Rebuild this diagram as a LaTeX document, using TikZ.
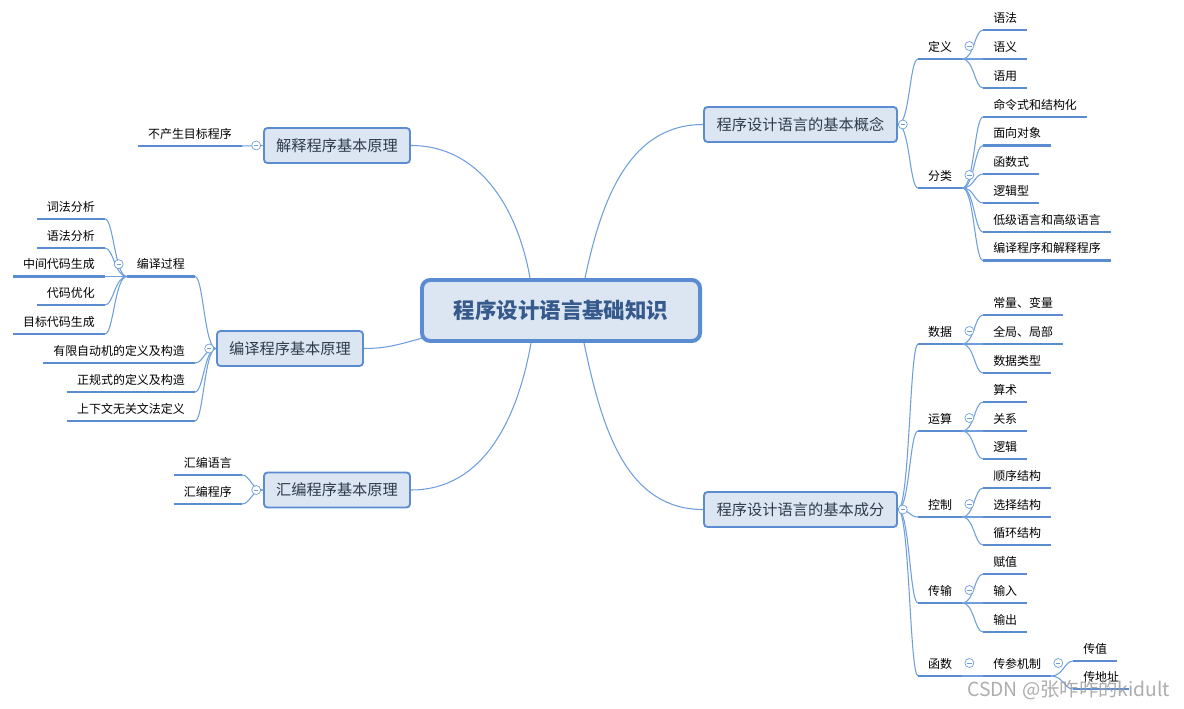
\documentclass[tikz,border=0pt]{standalone}
\usepackage{fontspec}
\setmainfont{Noto Sans CJK SC}
\usetikzlibrary{positioning,backgrounds}
\definecolor{mmblue}{HTML}{5B8CD2}
\definecolor{mmline}{HTML}{6E9FDC}
\definecolor{mmfill}{HTML}{DCE6F2}
\definecolor{mmtext}{HTML}{2E3B4C}
\definecolor{roottext}{HTML}{365A8C}
\tikzset{
  root/.style={draw=mmblue,line width=3.4pt,rounded corners=7pt,fill=mmfill,text=roottext,
    minimum width=8.34cm,minimum height=1.83cm,inner sep=0pt,font=\fontsize{18.3}{20}\selectfont\bfseries},
  topic/.style={draw=mmblue,line width=1.6pt,rounded corners=3pt,fill=mmfill,text=mmtext,
    minimum height=1.05cm,inner sep=0pt,font=\fontsize{13}{15}\selectfont},
  uline/.style={draw=mmblue,line width=2.5pt},
  leaf/.style={inner xsep=0.3cm,inner ysep=3.8pt,text height=9pt,text depth=2.5pt,
    font=\fontsize{10.2}{12}\selectfont,
    append after command={(\tikzlastnode.south west) edge[uline] (\tikzlastnode.south east)}},
  leafl/.style={leaf,anchor=south east},
  leafr/.style={leaf,anchor=south west},
  fold/.style={circle,draw=mmline,fill=white,line width=0.6pt,minimum size=0.27cm,inner sep=0pt,
    path picture={\draw[mmline,line width=0.6pt] ([xshift=0.07cm]path picture bounding box.west)
      -- ([xshift=-0.07cm]path picture bounding box.east);}},
  branch/.style={draw=mmline,line width=0.9pt},
  rlink/.style={out=0,in=180,out distance=0.35cm,in distance=0.25cm},
  llink/.style={out=180,in=0,out distance=0.35cm,in distance=0.25cm},
  wmark/.style={text=gray!75,opacity=0.85,inner sep=0pt,font=\fontsize{16.5}{18}\selectfont}
}
\begin{document}
\begin{tikzpicture}[x=0.03cm,y=-0.03cm]
  \useasboundingbox (0,0) rectangle (1184,709);

  % centre and main topics
  \node[root] (root) at (561,310.5) {程序设计语言基础知识};
  \node[topic,minimum width=4.38cm] (jieshi) at (337,145.5) {解释程序基本原理};
  \node[topic,minimum width=4.38cm] (bianyi) at (290,348.5) {编译程序基本原理};
  \node[topic,minimum width=4.38cm] (huibian) at (337,490) {汇编程序基本原理};
  \node[topic,minimum width=5.79cm] (gainian) at (800.5,124.5) {程序设计语言的基本概念};
  \node[topic,minimum width=5.79cm] (chengfen) at (800.5,509.5) {程序设计语言的基本成分};

  % left side
  \node[leafl] (buchansheng) at (242,146) {不产生目标程序};
  \node[leafl] (guocheng) at (195,276.5) {编译过程};
  \node[leafl] (youxian) at (195,363) {有限自动机的定义及构造};
  \node[leafl] (zhenggui) at (195,392) {正规式的定义及构造};
  \node[leafl] (shangxiawen) at (195,421) {上下文无关文法定义};
  \node[leafl] (cifa) at (105,219) {词法分析};
  \node[leafl] (yufafx) at (105,248) {语法分析};
  \node[leafl] (zhongjian) at (105,276.5) {中间代码生成};
  \node[leafl] (youhua) at (105,305) {代码优化};
  \node[leafl] (mubiao) at (105,334) {目标代码生成};
  \node[leafl] (hbyuyan) at (242,475) {汇编语言};
  \node[leafl] (hbchengxu) at (242,504) {汇编程序};

  % right side, concepts
  \node[leafr] (dingyi) at (918,59) {定义};
  \node[leafr] (fenlei) at (918,188) {分类};
  \node[leafr] (yufa) at (983,30) {语法};
  \node[leafr] (yuyi) at (983,59) {语义};
  \node[leafr] (yuyong) at (983,88) {语用};
  \node[leafr] (mingling) at (983,117) {命令式和结构化};
  \node[leafr] (mianxiang) at (983,145.5) {面向对象};
  \node[leafr] (hanshushi) at (983,174) {函数式};
  \node[leafr] (luoji) at (983,203) {逻辑型};
  \node[leafr] (dijigaoji) at (983,232) {低级语言和高级语言};
  \node[leafr] (bianyijieshi) at (983,260.5) {编译程序和解释程序};

  % right side, components
  \node[leafr] (shuju) at (918,344) {数据};
  \node[leafr] (yunsuan) at (918,431) {运算};
  \node[leafr] (kongzhi) at (918,517) {控制};
  \node[leafr] (chuanshu) at (918,603) {传输};
  \node[leafr] (hanshu) at (918,676) {函数};
  \node[leafr] (changliang) at (983,315) {常量、变量};
  \node[leafr] (quanju) at (983,344) {全局、局部};
  \node[leafr] (leixing) at (983,373) {数据类型};
  \node[leafr] (suanshu) at (983,402) {算术};
  \node[leafr] (guanxi) at (983,431) {关系};
  \node[leafr] (luojiop) at (983,459) {逻辑};
  \node[leafr] (shunxu) at (983,488) {顺序结构};
  \node[leafr] (xuanze) at (983,517) {选择结构};
  \node[leafr] (xunhuan) at (983,545) {循环结构};
  \node[leafr] (fuzhi) at (983,574) {赋值};
  \node[leafr] (shuru) at (983,603) {输入};
  \node[leafr] (shuchu) at (983,632) {输出};
  \node[leafr] (chuancan) at (983,676) {传参机制};
  \node[leafr] (chuanzhi) at (1073,661) {传值};
  \node[leafr] (chuandizhi) at (1073,689) {传地址};

  % fold markers
  \node[fold,left=0.06cm of jieshi] (jieshi_fd) {};
  \node[fold,left=0.06cm of bianyi] (bianyi_fd) {};
  \node[fold,left=0.06cm of huibian] (huibian_fd) {};
  \node[fold,right=0pt of gainian] (gainian_fd) {};
  \node[fold,right=0pt of chengfen] (chengfen_fd) {};
  \node[fold] (guocheng_fd) at ([xshift=-0.24cm,yshift=0.37cm]guocheng.south west) {};
  \node[fold] (dingyi_fd) at ([xshift=0.21cm,yshift=0.39cm]dingyi.south east) {};
  \node[fold] (fenlei_fd) at ([xshift=0.21cm,yshift=0.39cm]fenlei.south east) {};
  \node[fold] (shuju_fd) at ([xshift=0.21cm,yshift=0.39cm]shuju.south east) {};
  \node[fold] (yunsuan_fd) at ([xshift=0.21cm,yshift=0.39cm]yunsuan.south east) {};
  \node[fold] (kongzhi_fd) at ([xshift=0.21cm,yshift=0.39cm]kongzhi.south east) {};
  \node[fold] (chuanshu_fd) at ([xshift=0.21cm,yshift=0.39cm]chuanshu.south east) {};
  \node[fold] (hanshu_fd) at ([xshift=0.21cm,yshift=0.39cm]hanshu.south east) {};
  \node[fold] (chuancan_fd) at ([xshift=0.21cm,yshift=0.39cm]chuancan.south east) {};

  \node[wmark,anchor=west] (csdn) at (967,690) {CSDN @张咋咋的kidult};

  \begin{scope}[on background layer]
    \fill[white] (0,0) rectangle (1184,709);
    % centre to topics
    \draw[branch] ([xshift=-0.93cm]root.north) to[out=100,in=0] (jieshi.east);
    \draw[branch] ([xshift=0.1cm,yshift=-0.82cm]root.west) to[out=195,in=0] (bianyi.east);
    \draw[branch] ([xshift=-0.9cm]root.south) to[out=-100,in=0] (huibian.east);
    \draw[branch] ([xshift=0.72cm]root.north) to[out=78,in=180] (gainian.west);
    \draw[branch] ([xshift=0.69cm]root.south) to[out=-78,in=180] (chengfen.west);

    % left branches
    \draw[branch] (jieshi.west) -- (buchansheng.south east);
    \draw[branch] (bianyi.west) to[llink] (guocheng.south east);
    \draw[branch] (bianyi.west) to[llink] (youxian.south east);
    \draw[branch] (bianyi.west) to[llink] (zhenggui.south east);
    \draw[branch] (bianyi.west) to[llink] (shangxiawen.south east);
    \draw[branch] (guocheng.south west) to[llink] (cifa.south east);
    \draw[branch] (guocheng.south west) to[llink] (yufafx.south east);
    \draw[branch] (guocheng.south west) to[llink] (zhongjian.south east);
    \draw[branch] (guocheng.south west) to[llink] (youhua.south east);
    \draw[branch] (guocheng.south west) to[llink] (mubiao.south east);
    \draw[branch] (huibian.west) to[llink] (hbyuyan.south east);
    \draw[branch] (huibian.west) to[llink] (hbchengxu.south east);

    % right branches
    \draw[branch] (gainian.east) to[rlink] (dingyi.south west);
    \draw[branch] (gainian.east) to[rlink] (fenlei.south west);
    \draw[branch] (dingyi.south east) to[rlink] (yufa.south west);
    \draw[branch] (dingyi.south east) to[rlink] (yuyi.south west);
    \draw[branch] (dingyi.south east) to[rlink] (yuyong.south west);
    \draw[branch] (fenlei.south east) to[rlink] (mingling.south west);
    \draw[branch] (fenlei.south east) to[rlink] (mianxiang.south west);
    \draw[branch] (fenlei.south east) to[rlink] (hanshushi.south west);
    \draw[branch] (fenlei.south east) to[rlink] (luoji.south west);
    \draw[branch] (fenlei.south east) to[rlink] (dijigaoji.south west);
    \draw[branch] (fenlei.south east) to[rlink] (bianyijieshi.south west);

    \draw[branch] (chengfen.east) to[rlink] (shuju.south west);
    \draw[branch] (chengfen.east) to[rlink] (yunsuan.south west);
    \draw[branch] (chengfen.east) to[rlink] (kongzhi.south west);
    \draw[branch] (chengfen.east) to[rlink] (chuanshu.south west);
    \draw[branch] (chengfen.east) to[rlink] (hanshu.south west);
    \draw[branch] (shuju.south east) to[rlink] (changliang.south west);
    \draw[branch] (shuju.south east) to[rlink] (quanju.south west);
    \draw[branch] (shuju.south east) to[rlink] (leixing.south west);
    \draw[branch] (yunsuan.south east) to[rlink] (suanshu.south west);
    \draw[branch] (yunsuan.south east) to[rlink] (guanxi.south west);
    \draw[branch] (yunsuan.south east) to[rlink] (luojiop.south west);
    \draw[branch] (kongzhi.south east) to[rlink] (shunxu.south west);
    \draw[branch] (kongzhi.south east) to[rlink] (xuanze.south west);
    \draw[branch] (kongzhi.south east) to[rlink] (xunhuan.south west);
    \draw[branch] (chuanshu.south east) to[rlink] (fuzhi.south west);
    \draw[branch] (chuanshu.south east) to[rlink] (shuru.south west);
    \draw[branch] (chuanshu.south east) to[rlink] (shuchu.south west);
    \draw[branch] (hanshu.south east) -- (chuancan.south west);
    \draw[branch] (chuancan.south east) to[rlink] (chuanzhi.south west);
    \draw[branch] (chuancan.south east) to[rlink] (chuandizhi.south west);
  \end{scope}
\end{tikzpicture}
\end{document}
